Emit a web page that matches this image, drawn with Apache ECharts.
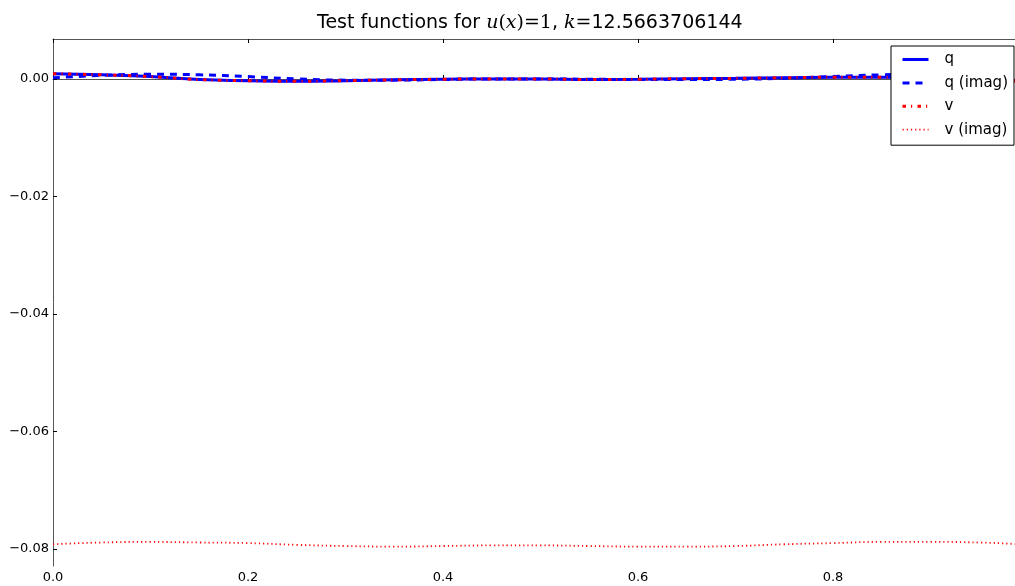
<!DOCTYPE html>
<html>
<head>
<meta charset="utf-8">
<script src="https://cdn.jsdelivr.net/npm/echarts@6/dist/echarts.min.js"></script>
<style>html,body{margin:0;padding:0;background:#fff}#c{width:1015px;height:586px}</style>
</head>
<body>
<div id="c"></div>
<script>
// x positions of samples
const xs = [0.00,0.05,0.10,0.15,0.20,0.25,0.30,0.35,0.40,0.45,0.50,0.55,0.60,0.65,0.70,0.75,0.80,0.85,0.90,0.95,1.00];
// q (real part)
const qReal = [0.0009,0.0007,0.0004,-0.0001,-0.0003,-0.0004,-0.0003,-0.00015,-0.00005,0.0,0.0,-0.0001,-0.00005,0.00005,0.0001,0.0002,0.0003,0.0003,0.0002,-0.0001,-0.0004];
// q (imag part)
const qImag = [0.0002,0.0006,0.0008,0.0007,0.0004,0.0,-0.0002,-0.0002,-0.0001,0.0,0.0,-0.00005,-0.0001,-0.0001,-0.00005,0.0001,0.0004,0.0007,0.0008,0.0003,-0.0004];
// v (real part)
const vReal = [0.0009,0.0007,0.0004,-0.0001,-0.0003,-0.0004,-0.0003,-0.00015,-0.00005,0.0,0.0,-0.0001,-0.00005,0.00005,0.0001,0.0002,0.0003,0.0003,0.0002,-0.0001,-0.0004];
// v (imag part)
const vImag = [-0.0792,-0.0789,-0.0788,-0.0789,-0.0790,-0.0793,-0.0795,-0.0796,-0.0795,-0.0794,-0.0794,-0.0795,-0.0796,-0.0796,-0.0795,-0.0792,-0.0790,-0.0788,-0.0788,-0.0789,-0.0793];
// tick values
const xTicks = [0.0,0.2,0.4,0.6,0.8];
const yTicks = [0.00,-0.02,-0.04,-0.06,-0.08];
const seriesNames = ['q','q (imag)','v','v (imag)'];

const pairs = arr => xs.map((x,i)=>[x,arr[i]]);
const fmtY = v => (v < 0 ? '\u2212' : '') + Math.abs(v).toFixed(2);
const fmtX = v => v.toFixed(1);

const styles = [
  {color:'#0000ff', width:3, type:'solid'},
  {color:'#0000ff', width:3, type:[7,6]},
  {color:'#ff0000', width:3, type:[3.5,5,1.2,5.3]},
  {color:'#ff0000', width:1.8, type:[1.2,3]}
];

const chart = echarts.init(document.getElementById('c'), null, {renderer:'canvas'});
const axisLine = {show:true, lineStyle:{color:'#555', width:1}};
const X_MAX = 0.9867;
chart.setOption({
  animation:false,
  backgroundColor:'#fff',
  title:{
    left:312, top:9,
    text:'{s|Test functions for }{mi|u}{m|(}{mi|x}{m|)=1}{s|, }{mi|k}{m|=}{s|12.5663706144}',
    textStyle:{
      fontWeight:'normal',
      rich:{
        s:{fontFamily:'DejaVu Sans', fontSize:19, fontWeight:'normal', color:'#000'},
        mi:{fontFamily:'DejaVu Serif', fontStyle:'italic', fontWeight:'normal', fontSize:19, color:'#000'},
        m:{fontFamily:'DejaVu Serif', fontSize:19, fontWeight:'normal', color:'#000'}
      }
    }
  },
  grid:{left:53, right:0, top:39, bottom:20, containLabel:false},
  legend:{
    orient:'vertical', left:891, top:46,
    padding:[6,6,8,10], itemGap:8.4, itemWidth:26, itemHeight:14,
    backgroundColor:'#fff', borderColor:'#000', borderWidth:1,
    selectedMode:false,
    itemStyle:{opacity:0, color:'rgba(0,0,0,0)', borderWidth:0},
    textStyle:{fontFamily:'DejaVu Sans', fontSize:15, color:'#000', padding:[0,0,0,11]},
    data:seriesNames.map((n,i)=>({name:n, lineStyle:{width:styles[i].width, type:styles[i].type, color:styles[i].color}}))
  },
  xAxis:[{
    type:'value', min:0, max:X_MAX, position:'bottom',
    axisLine:axisLine,
    axisTick:{show:true, inside:true, length:4, lineStyle:{color:'#000'}, customValues:xTicks},
    axisLabel:{show:true, margin:5, fontFamily:'DejaVu Sans', fontSize:13, color:'#000', customValues:xTicks, formatter:fmtX},
    splitLine:{show:false}
  },{
    type:'value', min:0, max:X_MAX, position:'top',
    axisLine:axisLine,
    axisTick:{show:true, inside:true, length:4, lineStyle:{color:'#000'}, customValues:xTicks},
    axisLabel:{show:false},
    splitLine:{show:false}
  }],
  yAxis:[{
    type:'value', min:-0.0829, max:0.0068, position:'left',
    axisLine:axisLine,
    axisTick:{show:true, inside:true, length:4, lineStyle:{color:'#000'}, customValues:yTicks},
    axisLabel:{show:true, margin:4, fontFamily:'DejaVu Sans', fontSize:13, color:'#000', customValues:yTicks, formatter:fmtY},
    splitLine:{show:false}
  }],
  series:seriesNames.map((n,i)=>({
    name:n, type:'line', smooth:true, symbol:'none',
    data:pairs([qReal,qImag,vReal,vImag][i]),
    lineStyle:styles[i], itemStyle:{color:styles[i].color}
  }))
});
</script>
</body>
</html>
